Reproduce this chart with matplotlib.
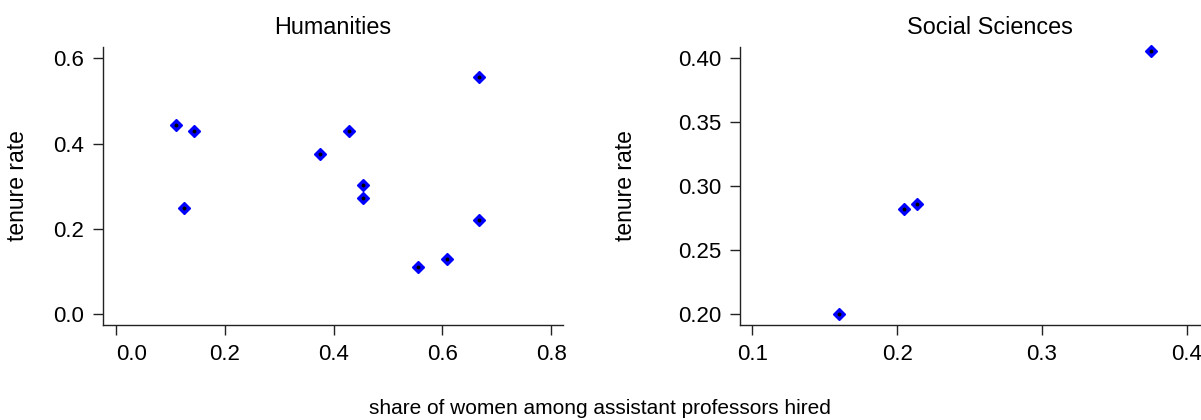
import matplotlib
matplotlib.use("Agg")
import matplotlib.pyplot as plt

plt.rcParams['font.family'] = ['Liberation Sans', 'DejaVu Sans']

# Humanities
hum_share = [0.111, 0.143, 0.125, 0.375, 0.429, 0.455, 0.455, 0.556, 0.608, 0.667, 0.667]
hum_tenure = [0.444, 0.429, 0.250, 0.375, 0.429, 0.303, 0.273, 0.111, 0.130, 0.222, 0.556]
hum_xticks = [0.0, 0.2, 0.4, 0.6, 0.8]
hum_yticks = [0.0, 0.2, 0.4, 0.6]

# Social Sciences
soc_share = [0.160, 0.205, 0.214, 0.375]
soc_tenure = [0.200, 0.282, 0.286, 0.406]
soc_xticks = [0.1, 0.2, 0.3, 0.4]
soc_yticks = [0.20, 0.25, 0.30, 0.35, 0.40]

W, H = 1201, 420
fig = plt.figure(figsize=(W / 100, H / 100), dpi=100)

FS = 16


def px_axes(x0, x1, ytop, ybot):
    return fig.add_axes([x0 / W, 1 - ybot / H, (x1 - x0) / W, (ybot - ytop) / H])


def style(ax, xticks, yticks, xfmt, yfmt):
    for s in ['top', 'right']:
        ax.spines[s].set_visible(False)
    for s in ['left', 'bottom']:
        ax.spines[s].set_linewidth(1.0)
        ax.spines[s].set_color('#222222')
    ax.set_xticks(xticks)
    ax.set_yticks(yticks)
    ax.set_xticklabels([xfmt.format(v) for v in xticks])
    ax.set_yticklabels([yfmt.format(v) for v in yticks])
    ax.tick_params(direction='out', length=7.5, width=1.0, color='#222222',
                   labelsize=FS, pad=6)
    ax.patch.set_alpha(0)


def scatter(ax, xs, ys):
    ax.plot(xs, ys, linestyle='none', marker='D', markersize=6.4,
            markerfacecolor='#0000ff', markeredgecolor='#0000ff', clip_on=False)
    ax.plot(xs, ys, linestyle='none', marker='o', markersize=1.8,
            markerfacecolor='black', markeredgecolor='black', clip_on=False)


ax1 = px_axes(103, 563, 47.3, 325)
scatter(ax1, hum_share, hum_tenure)
ax1.set_xlim(-0.0236, 0.8217)
ax1.set_ylim(-0.0251, 0.6258)
style(ax1, hum_xticks, hum_yticks, '{:.1f}', '{:.1f}')
ax1.get_xticklabels()[0].set_horizontalalignment('left')

ax2 = px_axes(740, 1240, 47.3, 325)
scatter(ax2, soc_share, soc_tenure)
ax2.set_xlim(0.0915, 0.4368)
ax2.set_ylim(0.1916, 0.4086)
style(ax2, soc_xticks, soc_yticks, '{:.1f}', '{:.2f}')

fig.text(333 / W, 1 - 27 / H, 'Humanities', ha='center', va='center', fontsize=16.8)
fig.text(990 / W, 1 - 27 / H, 'Social Sciences', ha='center', va='center', fontsize=16.8)
fig.text(18 / W, 1 - 186 / H, 'tenure rate', ha='center', va='center',
         rotation=90, fontsize=16.5)
fig.text(625 / W, 1 - 186 / H, 'tenure rate', ha='center', va='center',
         rotation=90, fontsize=16.5)
fig.text(600 / W, 1 - 409 / H, 'share of women among assistant professors hired',
         ha='center', va='center', fontsize=15)

fig.savefig('out.png', dpi=100)
